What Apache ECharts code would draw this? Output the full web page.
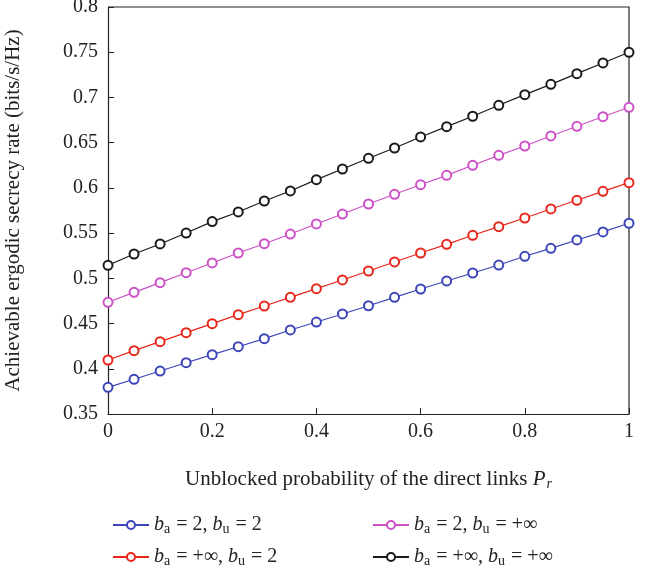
<!DOCTYPE html>
<html>
<head>
<meta charset="utf-8">
<style>
  html, body { margin: 0; padding: 0; background: #ffffff; }
  #chart { width: 653px; height: 571px; }
</style>
<script src="https://cdn.jsdelivr.net/npm/echarts@6/dist/echarts.min.js"></script>
</head>
<body>
<div id="chart"></div>
<script>
// Unblocked probability of the direct links
const pr = ['0', '0.05', '0.1', '0.15', '0.2', '0.25', '0.3', '0.35', '0.4', '0.45', '0.5',
            '0.55', '0.6', '0.65', '0.7', '0.75', '0.8', '0.85', '0.9', '0.95', '1'];

// Achievable ergodic secrecy rate (bits/s/Hz)
const rateA2U2 = [0.3795, 0.3884, 0.3975, 0.4067, 0.4156, 0.4244, 0.4333, 0.4429, 0.4517, 0.4606, 0.4697,
                  0.4790, 0.4882, 0.4971, 0.5059, 0.5147, 0.5244, 0.5332, 0.5424, 0.5513, 0.5609];
const rateAinfU2 = [0.4097, 0.4200, 0.4300, 0.4399, 0.4499, 0.4598, 0.4694, 0.4790, 0.4886, 0.4982, 0.5081,
                    0.5181, 0.5280, 0.5376, 0.5476, 0.5571, 0.5667, 0.5767, 0.5863, 0.5962, 0.6058];
const rateA2Uinf = [0.4735, 0.4845, 0.4952, 0.5062, 0.5170, 0.5280, 0.5383, 0.5490, 0.5601, 0.5711, 0.5822,
                    0.5929, 0.6035, 0.6139, 0.6250, 0.6360, 0.6463, 0.6574, 0.6681, 0.6787, 0.6891];
const rateAinfUinf = [0.5144, 0.5269, 0.5380, 0.5501, 0.5627, 0.5734, 0.5855, 0.5966, 0.6091, 0.6209, 0.6327,
                      0.6441, 0.6563, 0.6677, 0.6792, 0.6913, 0.7031, 0.7145, 0.7263, 0.7381, 0.7499];

const yTicks = ['0.35', '0.4', '0.45', '0.5', '0.55', '0.6', '0.65', '0.7', '0.75', '0.8'];
const xTicks = ['0', '0.2', '0.4', '0.6', '0.8', '1'];

const seriesNames = ['s1', 's2', 's3', 's4'];
const seriesLabels = [
  '{i|b}{s|a} = 2, {i|b}{s|u} = 2',
  '{i|b}{s|a} = +\u221E, {i|b}{s|u} = 2',
  '{i|b}{s|a} = 2, {i|b}{s|u} = +\u221E',
  '{i|b}{s|a} = +\u221E, {i|b}{s|u} = +\u221E'
];
const seriesData = [rateA2U2, rateAinfU2, rateA2Uinf, rateAinfUinf];
const seriesColors = ['#3d45b8', '#e8261c', '#cc50c6', '#1a1a1a'];

const FONT = '"Liberation Serif", "DejaVu Serif", serif';
const TEXT = '#222222';
const FS = 20;
const NAME_FS = 21;

const richText = {
  i: { fontFamily: FONT, fontStyle: 'italic', fontSize: FS, color: TEXT },
  s: { fontFamily: FONT, fontSize: 14, color: TEXT, verticalAlign: 'bottom', padding: [9, 1, 0, 0] }
};
const nameRich = {
  i: { fontFamily: FONT, fontStyle: 'italic', fontSize: NAME_FS, color: TEXT },
  si: { fontFamily: FONT, fontStyle: 'italic', fontSize: 14, color: TEXT, verticalAlign: 'bottom', padding: [9, 0, 0, 1] }
};

const labelMap = {};
seriesNames.forEach((n, k) => { labelMap[n] = seriesLabels[k]; });

// One legend block per series so each entry sits in its own grid cell
const legendPos = [
  { left: 107, top: 510 },
  { left: 107, top: 542 },
  { left: 367, top: 510 },
  { left: 367, top: 542 }
];

const legends = seriesNames.map((n, k) => ({
  data: [n],
  left: legendPos[k].left,
  top: legendPos[k].top,
  itemWidth: 36,
  itemHeight: 10,
  itemGap: 10,
  selectedMode: false,
  formatter: (name) => labelMap[name],
  textStyle: { fontFamily: FONT, fontSize: FS, color: TEXT, rich: richText }
}));

const chart = echarts.init(document.getElementById('chart'), null, { renderer: 'canvas' });

chart.setOption({
  animation: false,
  backgroundColor: '#ffffff',
  grid: { left: 108, right: 24, top: 7, bottom: 157, containLabel: false, outerBoundsMode: 'none' },
  legend: legends,
  xAxis: {
    type: 'value',
    min: 0, max: 1, interval: 0.2,
    name: 'Unblocked probability of the direct links {i|P}{si|r}',
    nameLocation: 'middle',
    nameGap: 54,
    nameTextStyle: { fontFamily: FONT, fontSize: NAME_FS, color: TEXT, rich: nameRich },
    axisLine: { onZero: false, lineStyle: { color: '#222', width: 1.2 } },
    axisTick: { inside: true, length: 6, lineStyle: { color: '#222' } },
    axisLabel: {
      fontFamily: FONT, fontSize: FS, color: TEXT, margin: 8,
      formatter: (v) => xTicks.find(t => Math.abs(parseFloat(t) - v) < 1e-9) || ''
    },
    splitLine: { show: false }
  },
  yAxis: {
    type: 'value',
    min: 0.35, max: 0.8, interval: 0.05,
    name: 'Achievable ergodic secrecy rate (bits/s/Hz)',
    nameLocation: 'middle',
    nameGap: 84,
    nameTextStyle: { fontFamily: FONT, fontSize: NAME_FS, color: TEXT },
    axisLine: { onZero: false, lineStyle: { color: '#222', width: 1.2 } },
    axisTick: { inside: true, length: 6, lineStyle: { color: '#222' } },
    axisLabel: {
      fontFamily: FONT, fontSize: FS, color: TEXT, margin: 10,
      formatter: (v) => yTicks.find(t => Math.abs(parseFloat(t) - v) < 1e-9) || ''
    },
    splitLine: { show: false }
  },
  series: seriesNames.map((n, k) => ({
    name: n,
    type: 'line',
    data: pr.map((x, j) => [parseFloat(x), seriesData[k][j]]),
    symbol: 'emptyCircle',
    symbolSize: 9,
    showAllSymbol: true,
    color: seriesColors[k],
    lineStyle: { color: seriesColors[k], width: 1.2 },
    itemStyle: { color: seriesColors[k], borderColor: seriesColors[k], borderWidth: 1.2 },
    z: 2 + k
  })),
  graphic: [{
    // closing frame on the top and right sides of the plot box
    type: 'polyline',
    shape: { points: [[108, 7], [629, 7], [629, 414]] },
    style: { stroke: '#222', lineWidth: 1.2, fill: null },
    silent: true
  }]
});
</script>
</body>
</html>
